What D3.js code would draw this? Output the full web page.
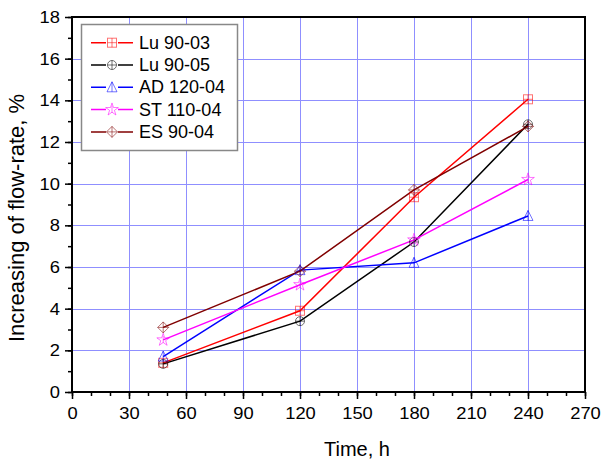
<!DOCTYPE html>
<html><head><meta charset="utf-8">
<script src="https://cdn.jsdelivr.net/npm/d3@7"></script>
<style>body{margin:0;background:#fff}svg{display:block;font-family:"Liberation Sans",Arial,sans-serif}</style>
</head><body>
<svg id="c" width="601" height="460"></svg>
<script>
const times = [48, 120, 180, 240];
const seriesNames = ["Lu 90-03", "Lu 90-05", "AD 120-04", "ST 110-04", "ES 90-04"];
const lu9003 = [1.4, 3.9, 9.35, 14.05];
const lu9005 = [1.35, 3.4, 7.2, 12.85];
const ad12004 = [1.7, 5.85, 6.2, 8.45];
const st11004 = [2.5, 5.15, 7.3, 10.2];
const es9004 = [3.1, 5.8, 9.7, 12.75];
const colors = ["#ff0000", "#000000", "#0000ff", "#ff00ff", "#800000"];
const markers = ["squarePlus", "circlePlus", "triangle", "star", "diamondPlus"];
const xTicks = [0,30,60,90,120,150,180,210,240,270];
const yTicks = [0,2,4,6,8,10,12,14,16,18];

const svg = d3.select("#c");
const L=72,R=585,T=17,B=392;
const x = d3.scaleLinear().domain([0,270]).range([L,R]);
const y = d3.scaleLinear().domain([0,18]).range([B,T]);
const SX = 1.08;

// grid
const g = svg.append("g");
g.selectAll(".gx").data(xTicks.slice(1,-1)).enter().append("line")
 .attr("x1",d=>Math.round(x(d))+0.5).attr("x2",d=>Math.round(x(d))+0.5).attr("y1",T).attr("y2",B)
 .attr("stroke","#8f8fff").attr("stroke-width",1);
g.selectAll(".gy").data(yTicks.slice(1,-1)).enter().append("line")
 .attr("y1",d=>Math.round(y(d))+0.5).attr("y2",d=>Math.round(y(d))+0.5).attr("x1",L).attr("x2",R)
 .attr("stroke","#8f8fff").attr("stroke-width",1);

// axes
const xAxis = d3.axisBottom(x).tickValues(xTicks).tickSize(7).tickPadding(8);
const xa = svg.append("g").attr("transform",`translate(0,${B})`).call(xAxis);
const xMinor = d3.axisBottom(x).tickValues(d3.range(0,271,10)).tickSize(4).tickFormat("");
svg.append("g").attr("transform",`translate(0,${B})`).call(xMinor).select(".domain").remove();
const yAxis = d3.axisLeft(y).tickValues(yTicks).tickSize(7).tickPadding(5);
const ya = svg.append("g").attr("transform",`translate(${L},0)`).call(yAxis);
const yMinor = d3.axisLeft(y).tickValues(d3.range(0,19,1)).tickSize(4).tickFormat("");
svg.append("g").attr("transform",`translate(${L},0)`).call(yMinor).select(".domain").remove();
svg.selectAll(".tick line").attr("stroke","#000").attr("stroke-width",1.5);
svg.selectAll(".domain").remove();
svg.selectAll(".tick text").attr("font-size",17).attr("fill","#000").attr("font-family","Liberation Sans, Arial, sans-serif");
xa.selectAll(".tick text").attr("transform",`scale(${SX},1)`);
ya.selectAll(".tick text").attr("transform",`scale(${SX},1)`).attr("x",-12/SX);

// frame
svg.append("rect").attr("x",L).attr("y",T).attr("width",R-L).attr("height",B-T)
 .attr("fill","none").attr("stroke","#000").attr("stroke-width",2);

// labels
svg.append("text").attr("x",357).attr("y",456).attr("text-anchor","middle").attr("font-size",20).text("Time, h");
svg.append("text").attr("transform",`translate(24,218) rotate(-90)`).attr("text-anchor","middle").attr("font-size",22).text("Increasing of flow-rate, %");

function marker(sel, type, color){
  const s=4.5;
  const st={fill:"none",stroke:color,"stroke-width":1,"stroke-opacity":0.55};
  const add=(tag,attrs)=>{const e=sel.append(tag);Object.entries({...st,...attrs}).forEach(([k,v])=>e.attr(k,v));};
  if(type==="squarePlus"){add("rect",{x:-s,y:-s,width:2*s,height:2*s});add("path",{d:`M${-s},0H${s}M0,${-s}V${s}`});}
  if(type==="circlePlus"){add("circle",{r:s});add("path",{d:`M${-s},0H${s}M0,${-s}V${s}`});}
  if(type==="triangle"){add("path",{d:`M0,${-s-1}L${s+0.5},${s}L${-s-0.5},${s}Z M0,${-s-1}V${s}`});}
  if(type==="star"){add("path",{d:d3.symbol(d3.symbolStar,50)()});add("path",{d:`M0,-4V3`});}
  if(type==="diamondPlus"){add("path",{d:`M0,${-s-1}L${s+1},0L0,${s+1}L${-s-1},0Z M${-s-1},0H${s+1}M0,${-s-1}V${s+1}`});}
}

const allSeries=[lu9003,lu9005,ad12004,st11004,es9004];
const line=d3.line().x((d,i)=>x(times[i])).y(d=>y(d));
allSeries.forEach((vals,k)=>{
  svg.append("path").datum(vals).attr("d",line).attr("fill","none").attr("stroke",colors[k]).attr("stroke-width",1.5);
});
allSeries.forEach((vals,k)=>{
  vals.forEach((v,i)=>{
    const m=svg.append("g").attr("transform",`translate(${x(times[i])},${y(v)})`);
    marker(m,markers[k],colors[k]);
  });
});

// legend
const lg=svg.append("g");
lg.append("rect").attr("x",81.5).attr("y",24.5).attr("width",156).attr("height",126).attr("fill","#fff").attr("stroke","#888").attr("stroke-width",1.5);
seriesNames.forEach((n,k)=>{
  const yy=42.7+k*22.3;
  lg.append("line").attr("x1",91).attr("x2",133).attr("y1",yy).attr("y2",yy).attr("stroke",colors[k]).attr("stroke-width",1.5);
  const m=lg.append("g").attr("transform",`translate(112,${yy})`);
  m.append("rect").attr("x",-6).attr("y",-6).attr("width",12).attr("height",12).attr("fill","#fff");
  marker(m,markers[k],colors[k]);
  lg.append("text").attr("x",139).attr("y",yy+6).attr("font-size",18).text(n);
});
</script>
</body></html>
